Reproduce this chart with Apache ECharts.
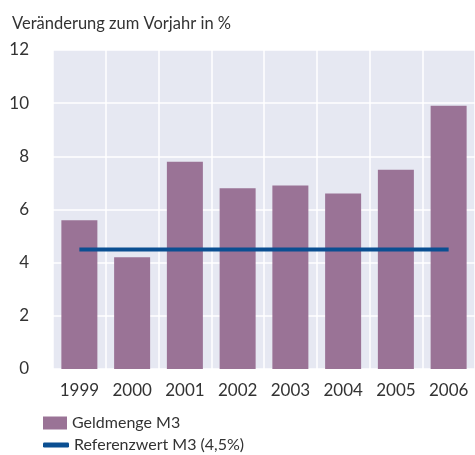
<!DOCTYPE html>
<html>
<head>
<meta charset="utf-8">
<script src="https://cdn.jsdelivr.net/npm/echarts@6/dist/echarts.min.js"></script>
<style>
	html, body { margin: 0; padding: 0; background: #fff; }
	#chart { width: 475px; height: 455px; }
</style>
</head>
<body>
<div id="chart"></div>
<script>
	// Daten
	var years = ['1999', '2000', '2001', '2002', '2003', '2004', '2005', '2006'];
	var geldmenge = [5.6, 4.2, 7.8, 6.8, 6.9, 6.6, 7.5, 9.9];
	var referenzwert = [4.5, 4.5, 4.5, 4.5, 4.5, 4.5, 4.5, 4.5];
	var yTicks = [0, 2, 4, 6, 8, 10, 12];

	var font = 'Lato, "Open Sans", sans-serif';
	var legendText = { fontFamily: font, fontSize: 16, color: '#333' };
	var chart = echarts.init(document.getElementById('chart'));
	var option = {
		animation: false,
		textStyle: { fontFamily: font, color: '#333' },
		title: {
			text: 'Veränderung zum Vorjahr in %',
			left: 7,
			top: 10,
			textStyle: { fontFamily: font, fontSize: 16.5, fontWeight: 'normal', color: '#333' }
		},
		grid: {
			left: 53,
			right: 0,
			top: 50,
			bottom: 86,
			backgroundColor: '#e6e8f2',
			show: true,
			borderWidth: 0
		},
		legend: [
			{
				left: 38,
				top: 410,
				itemWidth: 24,
				itemHeight: 13,
				itemGap: 12,
				textStyle: legendText,
				data: [{ name: 'Geldmenge M3', icon: 'rect' }]
			},
			{
				left: 38,
				top: 432,
				itemWidth: 26,
				itemHeight: 5,
				itemGap: 12,
				textStyle: legendText,
				data: [{ name: 'Referenzwert M3 (4,5%)', icon: 'roundRect' }]
			}
		],
		xAxis: {
			type: 'category',
			data: years,
			axisLine: { show: false },
			axisTick: { show: false },
			axisLabel: { fontSize: 17, color: '#333', margin: 13, fontFamily: font },
			splitLine: { show: true, lineStyle: { color: '#ffffff', width: 1.5 } }
		},
		yAxis: {
			type: 'value',
			min: yTicks[0],
			max: yTicks[yTicks.length - 1],
			interval: 2,
			axisLine: { show: false },
			axisTick: { show: false },
			axisLabel: { fontSize: 17, color: '#333', margin: 24, fontFamily: font },
			splitLine: { show: true, lineStyle: { color: '#ffffff', width: 1.5 } }
		},
		series: [
			{
				name: 'Geldmenge M3',
				type: 'bar',
				data: geldmenge,
				barWidth: 36,
				itemStyle: { color: '#9a7396' }
			},
			{
				name: 'Referenzwert M3 (4,5%)',
				type: 'line',
				data: referenzwert,
				symbol: 'none',
				lineStyle: { color: '#0b4f92', width: 4 },
				itemStyle: { color: '#0b4f92' }
			}
		]
	};
	chart.setOption(option);
</script>
</body>
</html>
